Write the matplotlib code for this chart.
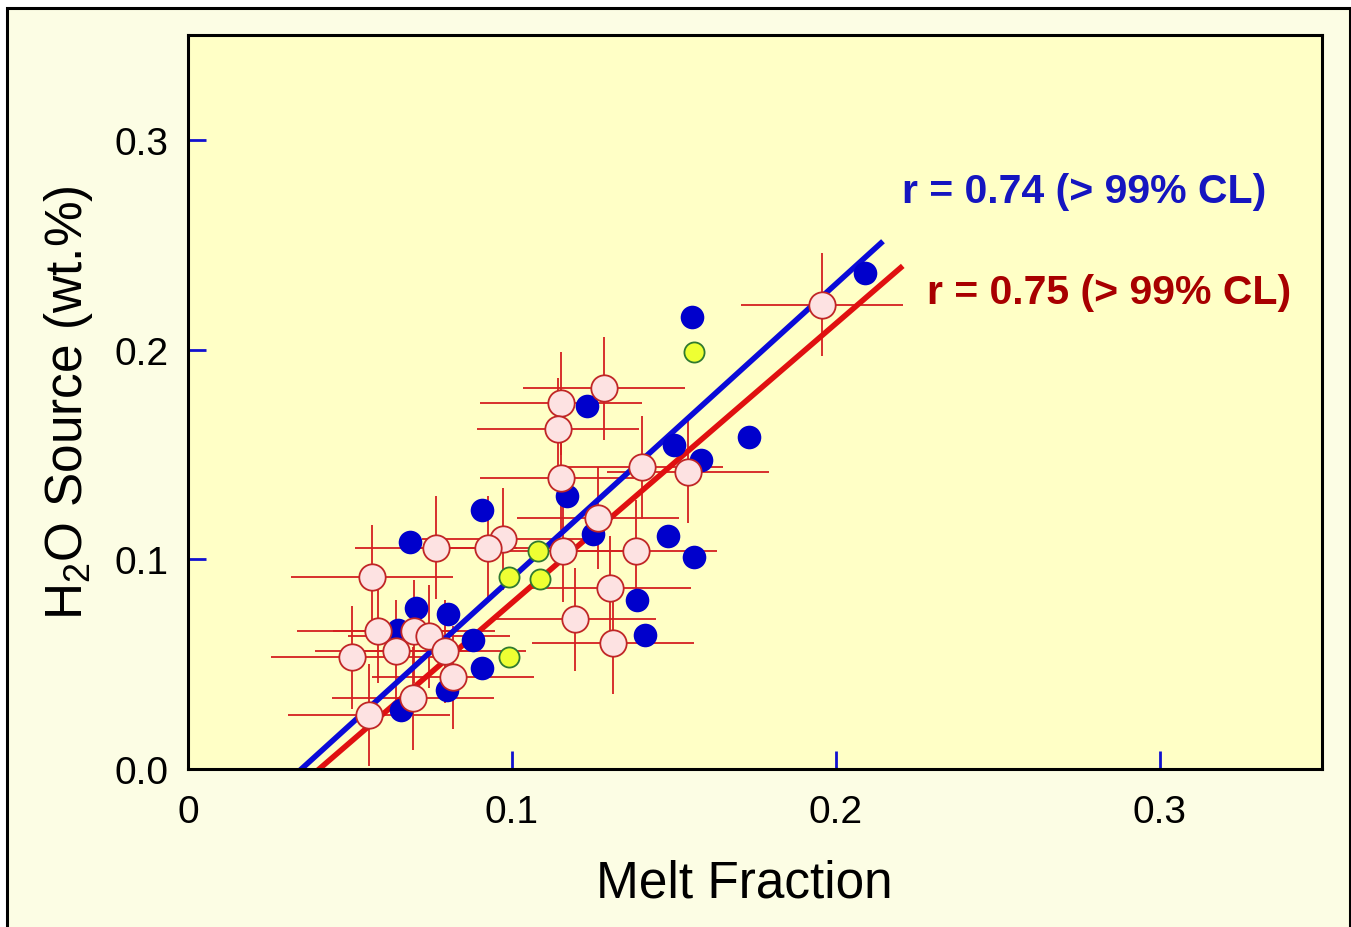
import matplotlib
matplotlib.use("Agg")
import matplotlib.pyplot as plt
from matplotlib.patches import Rectangle
import numpy as np

plt.rcParams['font.family'] = ['Liberation Sans', 'DejaVu Sans']
plt.rcParams['mathtext.default'] = 'regular'

# Pink circles with error bars
pink_x = [0.1957, 0.1284, 0.1151, 0.1142, 0.1151, 0.1401, 0.1543, 0.1265, 0.0972,
          0.0926, 0.1157, 0.1383, 0.0765, 0.0568, 0.1302, 0.1194, 0.1312, 0.0586,
          0.0698, 0.0744, 0.0642, 0.0506, 0.0793, 0.0818, 0.0694, 0.0559]
pink_y = [0.2214, 0.1815, 0.1743, 0.1620, 0.1387, 0.1439, 0.1416, 0.1197, 0.1097,
          0.1055, 0.1040, 0.1040, 0.1055, 0.0917, 0.0865, 0.0713, 0.0603, 0.0656,
          0.0656, 0.0632, 0.0561, 0.0532, 0.0561, 0.0437, 0.0337, 0.0257]
x_err = 0.025
y_err = 0.0245

# Blue dots
blue_x = [0.2090, 0.1556, 0.1231, 0.1731, 0.1500, 0.1583, 0.1170, 0.0907, 0.1250,
          0.1481, 0.1562, 0.0685, 0.1386, 0.1410, 0.0704, 0.0802, 0.0880, 0.0907,
          0.0799, 0.0657, 0.0648]
blue_y = [0.2366, 0.2157, 0.1729, 0.1582, 0.1544, 0.1473, 0.1302, 0.1235, 0.1121,
          0.1112, 0.1012, 0.1083, 0.0808, 0.0641, 0.0770, 0.0741, 0.0613, 0.0480,
          0.0375, 0.0280, 0.0665]

# Yellow circles
yellow_x = [0.1562, 0.1080, 0.0991, 0.1086, 0.0991]
yellow_y = [0.1990, 0.1040, 0.0917, 0.0907, 0.0532]

# Regression lines: slope, x-intercept, x range end
blue_fit = (1.402, 0.0350, 0.2145)
red_fit = (1.332, 0.0405, 0.2206)

fig = plt.figure(figsize=(13.51, 9.28), dpi=100, facecolor='white')
fig.patches.append(Rectangle((7 / 1351, -0.05), 1343 / 1351, (928 - 9) / 928 + 0.05,
                             transform=fig.transFigure, facecolor='#FCFDE4',
                             edgecolor='black', linewidth=2.2, zorder=-10))

ax = fig.add_axes([188 / 1351, (928 - 770) / 928, 1134 / 1351, 734 / 928])
ax.set_facecolor('#FFFFC6')

ax.errorbar(pink_x, pink_y, xerr=x_err, yerr=y_err, fmt='none', ecolor='#D42020',
            elinewidth=1.3, capsize=0, zorder=1)

for (m, x0, x1), c in [(blue_fit, '#0A0AD8'), (red_fit, '#E01010')]:
    xs = np.array([x0 - 0.002, x1])
    ax.plot(xs, m * (xs - x0), color=c, linewidth=4, solid_capstyle='butt', zorder=2)

ax.plot(blue_x, blue_y, 'o', color='#0000CC', markersize=17, markeredgewidth=0, zorder=3)
ax.plot(yellow_x, yellow_y, 'o', markerfacecolor='#EEFF33', markeredgecolor='#2F7A2F',
        markersize=14.5, markeredgewidth=1.3, zorder=4)
ax.plot(pink_x, pink_y, 'o', markerfacecolor='#FDE2E2', markeredgecolor='#C02626',
        markersize=19, markeredgewidth=1.3, zorder=5)

ax.set_xlim(0, 0.35)
ax.set_ylim(0, 0.35)
ax.set_xticks([0, 0.1, 0.2, 0.3])
ax.set_xticklabels(['0', '0.1', '0.2', '0.3'])
ax.set_yticks([0, 0.1, 0.2, 0.3])
ax.set_yticklabels(['0.0', '0.1', '0.2', '0.3'])
ax.tick_params(direction='in', length=13, width=2, color='#1010D0', labelsize=28,
               top=False, right=False)
ax.tick_params(axis='x', pad=18)
ax.tick_params(axis='y', pad=14)
for s in ax.spines.values():
    s.set_linewidth(2.2)
    s.set_color('black')

ax.set_xlabel('Melt Fraction', fontsize=37)
ax.xaxis.set_label_coords(0.491, -0.122)
ax.set_ylabel('H$_2$O Source (wt.%)', fontsize=37, labelpad=14)

ax.text(0.2205, 0.2755, 'r = 0.74 (> 99% CL)', color='#1515C0', fontsize=29.5,
        fontweight='bold', va='center', ha='left')
ax.text(0.2282, 0.2275, 'r = 0.75 (> 99% CL)', color='#A80000', fontsize=29.5,
        fontweight='bold', va='center', ha='left')

fig.savefig('out.png', dpi=100, facecolor=fig.get_facecolor())
